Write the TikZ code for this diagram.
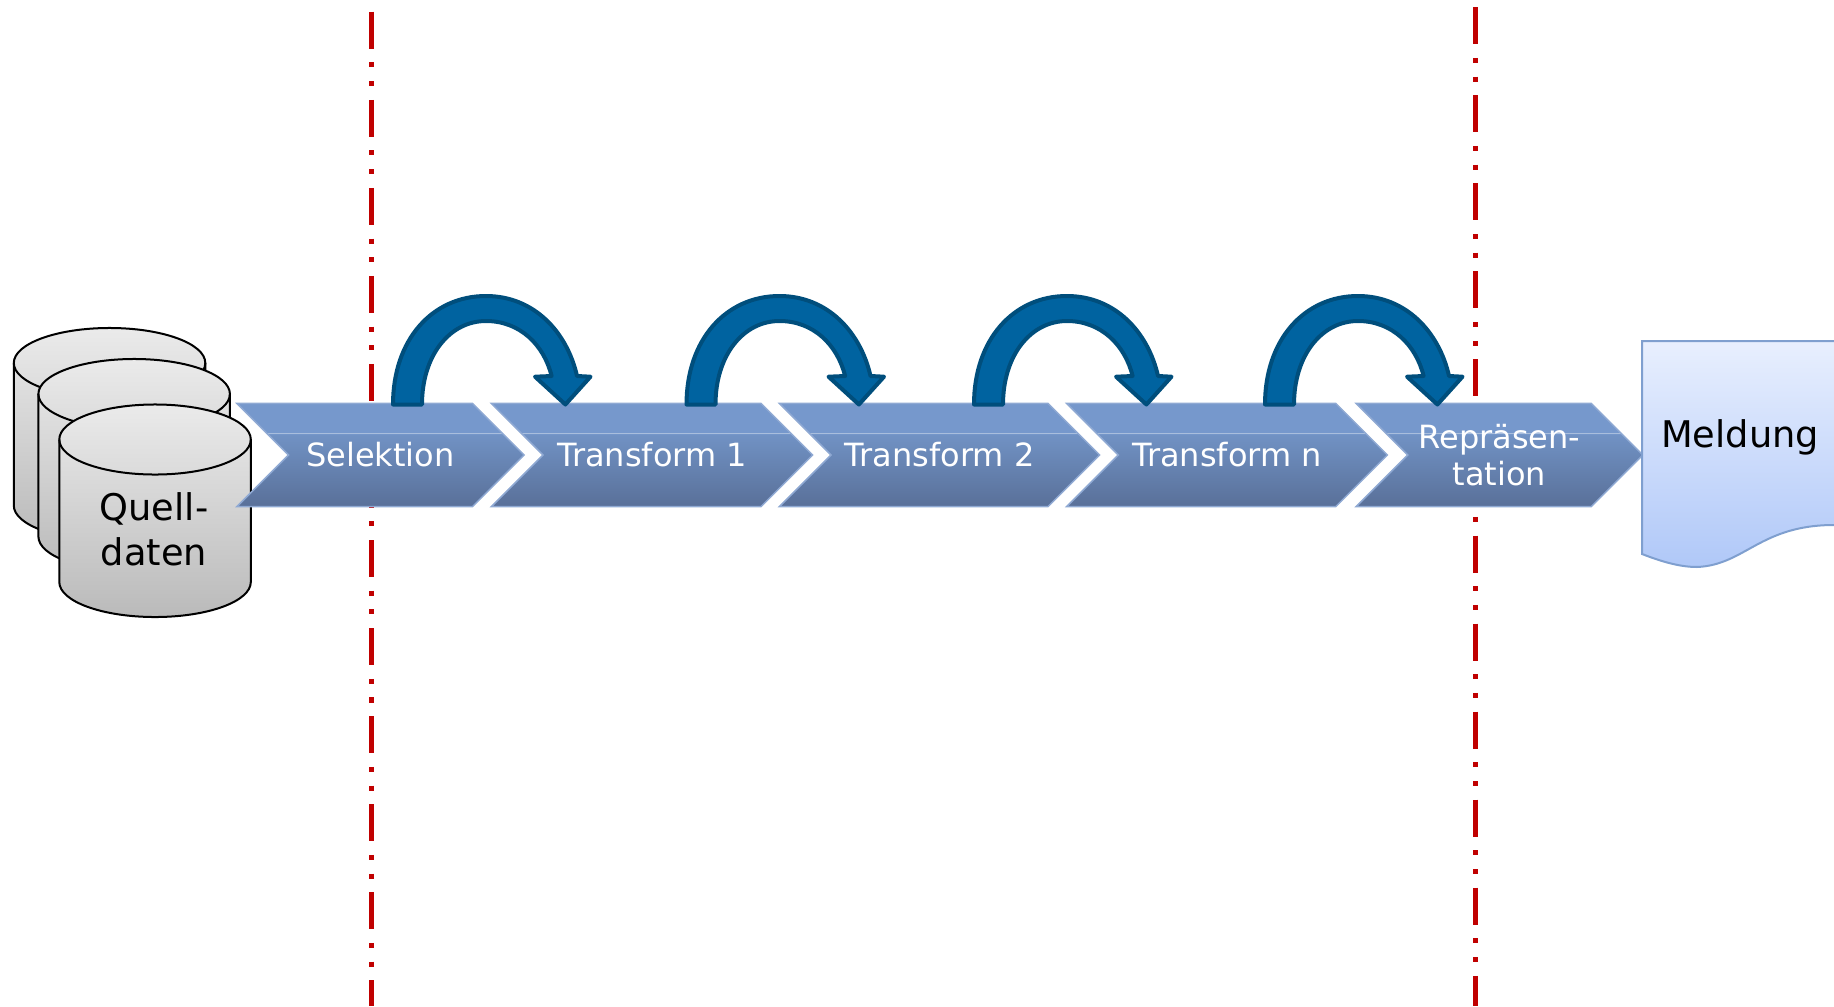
\documentclass[tikz,border=0pt]{standalone}
\usepackage{fontspec}
\setmainfont{DejaVu Sans}
\usetikzlibrary{shapes.symbols}
\definecolor{limred}{HTML}{C00000}
\definecolor{hopfill}{HTML}{0063A0}
\definecolor{hopedge}{HTML}{004E7C}
\definecolor{chevedge}{HTML}{8FA9D3}
\definecolor{chevtop}{HTML}{7698CC}
\definecolor{chevmid}{HTML}{7192C4}
\definecolor{chevbot}{HTML}{597099}
\definecolor{chevline}{HTML}{A9BEDD}
\definecolor{docedge}{HTML}{7F9FCF}
\definecolor{doctop}{HTML}{E8EFFE}
\definecolor{docbot}{HTML}{B0C8F8}
\pgfdeclareverticalshading{chevshade}{100bp}{color(0bp)=(chevbot); color(25bp)=(chevbot); color(60bp)=(chevmid); color(60.3bp)=(chevtop); color(75bp)=(chevtop); color(100bp)=(chevtop)}
\tikzset{%
    chev/.style={signal,signal from=west,signal to=east,signal pointer angle=90,
        inner sep=0pt,minimum height=1.03cm,draw=chevedge,line width=0.015cm,
        shading=chevshade,text=white,font=\fontsize{9.1}{10.6}\selectfont,align=center,
        path picture={\draw[chevline,line width=0.01cm]
            ([yshift=-0.305cm]path picture bounding box.north west) --
            ([yshift=-0.305cm]path picture bounding box.north east);}}
}

\begin{document}
\begin{tikzpicture}[
        x=0.01cm,y=-0.01cm,
        limit/.style={limred,line width=0.05cm,
            dash pattern=on 0.37cm off 0.137cm on 0.05cm off 0.137cm on 0.05cm off 0.136cm},
        db/.style={draw=black,line width=0.02cm,top color=black!8,bottom color=black!27},
        hop/.style={draw=hopedge,fill=hopfill,line width=0.04cm,line join=round},
        doc/.style={draw=docedge,line width=0.02cm,top color=doctop,bottom color=docbot}
        ]
        \useasboundingbox (0,0) rectangle (1834,1006);

        \coordinate (lim1a) at (371.5,11.7);
        \coordinate (lim1b) at (371.5,1006);
        \coordinate (lim2a) at (1475.5,7.2);
        \coordinate (lim2b) at (1475.5,1006);
        \draw[limit] (lim1a) -- (lim1b);
        \draw[limit] (lim2a) -- (lim2b);

        % back to front
        \foreach \nm/\x/\y in {src1/13.8/363,src2/38.4/394,src3/59.3/439.5}{
            \coordinate (\nm) at (\x,\y);
            \draw[db] (\nm) arc[x radius=0.957cm,y radius=0.35cm,start angle=180,end angle=0]
                -- ++(0,142.5) arc[x radius=0.957cm,y radius=0.35cm,start angle=0,end angle=-180] -- cycle;
            \draw[line width=0.02cm] (\nm) arc[x radius=0.957cm,y radius=0.35cm,start angle=180,end angle=360];
        }
        \node[align=center,font=\fontsize{10.45}{12.8}\selectfont] (srclbl) at (154,529) {Quell-\\daten};

        \node[chev,minimum width=2.87cm] (sel) at (380.5,455) {Selektion};
        \node[chev,minimum width=3.21cm] (tfa) at (652,455) {Transform 1};
        \node[chev,minimum width=3.20cm] (tfb) at (939.5,455) {Transform 2};
        \node[chev,minimum width=3.205cm] (tfn) at (1227,455) {Transform n};
        \node[chev,minimum width=2.865cm] (rep) at (1499.5,455) {Repräsen-\\tation};

        \foreach \x in {0,293.5,581,872}
            \draw[hop,shift={(\x,0)}] (393,404.5) .. controls (393,340) and (432,296) .. (486,296)
                .. controls (534,296) and (567,332) .. (577,376) -- (590.5,376.7) -- (565.4,404.5)
                -- (535,376.7) -- (551.6,376) .. controls (544,345) and (520,321) .. (486,321)
                .. controls (450,321) and (422,355) .. (422,404.5) -- cycle;

        \draw[doc] (1834,341) -- (1642,341) -- (1642,554) .. controls (1665,563) and (1682,567) .. (1697,567)
            .. controls (1745,565) and (1760,525) .. (1834,525);
        \node[font=\fontsize{10.45}{12}\selectfont] (msg) at (1740,437) {Meldung};
\end{tikzpicture}
\end{document}
